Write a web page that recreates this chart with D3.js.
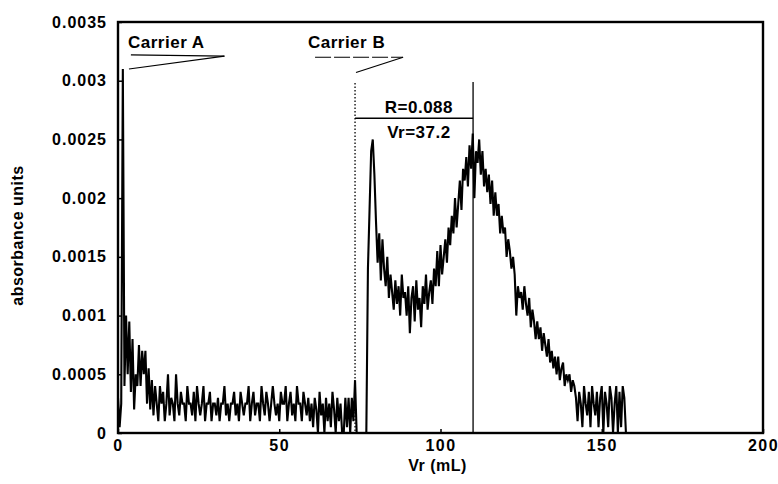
<!DOCTYPE html>
<html>
<head>
<meta charset="utf-8">
<script src="https://cdn.jsdelivr.net/npm/d3@7"></script>
<style>
  body { margin: 0; background: #fff; }
  text { font-family: "Liberation Sans", Arial, sans-serif; font-weight: bold; fill: #000; }
</style>
</head>
<body>
<div id="chart"></div>
<script>
// detector trace, one sample every 0.5 mL starting at 0 mL, in units of 1e-4 absorbance
const sampleStep = 0.5;
const traceE4 = [
  3, 0.5, 2.5, 31, 4, 10, 5, 9.5, 3.5, 8, 2, 5, 4, 7.5, 4, 7, 5, 7, 2.5, 5.5,
  2, 4.5, 1.5, 4, 2.5, 1, 4, 2.5, 3.5, 1, 2.5, 5, 1.5, 3, 2.5, 1, 5, 2.5, 1.5, 3.5,
  2.5, 2.5, 1, 4, 2.5, 2.5, 1.5, 3.5, 1, 4, 2.5, 1.5, 2.5, 4, 1, 2.5, 2.5, 3.5, 1, 2.5,
  2.5, 1.5, 3, 1, 2.5, 2.5, 4, 1.5, 2.5, 1, 2.5, 2.5, 3.5, 1.5, 2.5, 1, 3.5, 2.5, 1.5, 2.5,
  2.5, 4, 1, 2.5, 3.5, 1.5, 2.5, 2.5, 1, 4, 2.5, 1.5, 3.5, 2.5, 1, 2.5, 4, 2.5, 1.5, 2.5,
  1, 3.5, 2.5, 2.5, 4, 1, 2.5, 3.5, 1.5, 2.5, 1, 4, 2.5, 2.5, 1, 3.5, 2.5, 1.5, 3, 1,
  2.5, 0.5, 3, 2, 0, 3.5, 1.5, 2.5, 0, 3, 1, 2.5, 0.5, 3.5, 2, 0, 3, 1, 2.5, 0,
  0, 3, 0.5, 3, 0, 3, 1, 4.5, 0, 0, 0, 0, 0, 0, 0, 14, 19, 24, 25, 22,
  18, 14.5, 17, 13, 16.5, 14, 12.5, 15, 11.5, 13.5, 12, 10.5, 13, 11, 12.5, 10, 13.5, 11.5, 12, 10,
  12.5, 8.5, 11.5, 12.5, 9.5, 13, 10.5, 11.5, 9, 12.5, 11, 13.5, 10.5, 12, 13, 11, 14, 12.5, 15.5, 12.5,
  16, 13.5, 15, 16.5, 14.5, 17.5, 16, 18.5, 17, 20, 17.5, 19.5, 21.5, 19, 22.5, 21.5, 23.5, 21, 24.5, 22.5,
  25.5, 20, 24, 23, 25, 22, 24, 21, 22.5, 20.5, 22, 19.5, 21.5, 18.5, 20.5, 18.5, 19.5, 17, 18.5, 17,
  17.5, 15, 16.5, 15.5, 14, 15, 13.5, 10, 12.5, 11.5, 12, 10.5, 12.5, 11, 10, 11.5, 9, 10.5, 9.5, 8,
  9.5, 8, 9, 7, 8.5, 7.5, 6.5, 8, 6, 7, 5.5, 6.5, 5, 6.5, 4.5, 5.5, 6, 4, 5, 4.5,
  5, 3.5, 4.5, 4, 3, 1, 3.5, 2.5, 0.5, 4, 2.5, 1.5, 3.5, 0.5, 4, 2.5, 1.5, 3.5, 0.5, 3,
  4, 0, 3.5, 2.5, 0.5, 4, 3, 0, 2.5, 4, 0, 3.5, 0.5, 4, 3, 0, 0
];

const xTicks = [0, 50, 100, 150, 200];
const yTicks = [0, 0.0005, 0.001, 0.0015, 0.002, 0.0025, 0.003, 0.0035];
const yTickLabels = ["0", "0.0005", "0.001", "0.0015", "0.002", "0.0025", "0.003", "0.0035"];

// annotations (data coordinates)
const resultText = ["R=0.088", "Vr=37.2"];
const markerStart = 73.5;   // dotted line
const markerPeak = 110.1;   // solid line

const data = traceE4.map((v, i) => ({ vr: i * sampleStep, abs: v * 1e-4 }));

const margin = {top: 22, right: 15, bottom: 51, left: 118};
const W = 778, H = 484;
const width = W - margin.left - margin.right;
const height = H - margin.top - margin.bottom;

const svg = d3.select("#chart").append("svg")
  .attr("width", W)
  .attr("height", H);

const g = svg.append("g")
  .attr("transform", `translate(${margin.left},${margin.top})`);

const x = d3.scaleLinear().domain([0, 200]).range([0, width]);
const y = d3.scaleLinear().domain([0, 0.0035]).range([height, 0]);

// axes, ticks pointing inward
const xAxis = g.append("g")
  .attr("transform", `translate(0,${height})`)
  .call(d3.axisBottom(x).tickValues(xTicks).tickSize(-4).tickPadding(7).tickFormat(d3.format("d")));

const yAxis = g.append("g")
  .call(d3.axisLeft(y).tickValues(yTicks).tickSize(-4).tickPadding(11)
    .tickFormat((d, i) => yTickLabels[i]));

[xAxis, yAxis].forEach(a => {
  a.select(".domain").remove();
  a.selectAll("line").attr("stroke", "#000").attr("stroke-width", 1.5);
  a.selectAll("text")
    .style("font-size", "16px")
    .style("letter-spacing", "1px")
    .attr("fill", "#000");
});
xAxis.selectAll("text").style("letter-spacing", "1.5px");

// trace
const line = d3.line()
  .x(d => x(d.vr))
  .y(d => y(d.abs));

g.append("path")
  .datum(data)
  .attr("fill", "none")
  .attr("stroke", "#000")
  .attr("stroke-width", 2.1)
  .attr("d", line);

// frame
g.append("rect")
  .attr("width", width)
  .attr("height", height)
  .attr("fill", "none")
  .attr("stroke", "#000")
  .attr("stroke-width", 2.4);

// carrier gradient markers
g.append("text")
  .attr("x", x(3.1)).attr("y", y(0.00328))
  .style("font-size", "17px").style("letter-spacing", "0.5px")
  .text("Carrier A");
g.append("line")
  .attr("x1", x(4)).attr("y1", y(0.00322))
  .attr("x2", x(33)).attr("y2", y(0.00321))
  .attr("stroke", "#000").attr("stroke-width", 1.2);
g.append("line")
  .attr("x1", x(3.4)).attr("y1", y(0.0031))
  .attr("x2", x(33)).attr("y2", y(0.00321))
  .attr("stroke", "#000").attr("stroke-width", 1.2);

g.append("text")
  .attr("x", x(58.9)).attr("y", y(0.00328))
  .style("font-size", "17px").style("letter-spacing", "0.5px")
  .text("Carrier B");
g.append("line")
  .attr("x1", x(61.1)).attr("y1", y(0.0032))
  .attr("x2", x(88.4)).attr("y2", y(0.0032))
  .attr("stroke", "#000").attr("stroke-width", 1.2)
  .attr("stroke-dasharray", "16,3");
g.append("line")
  .attr("x1", x(73.8)).attr("y1", y(0.00307))
  .attr("x2", x(88.4)).attr("y2", y(0.0032))
  .attr("stroke", "#000").attr("stroke-width", 1.2);

// retention markers
g.append("line")
  .attr("x1", x(markerStart)).attr("x2", x(markerStart))
  .attr("y1", y(0.00298)).attr("y2", y(0))
  .attr("stroke", "#000").attr("stroke-width", 1.3)
  .attr("stroke-dasharray", "1.5,2");
g.append("line")
  .attr("x1", x(markerPeak)).attr("x2", x(markerPeak))
  .attr("y1", y(0.00299)).attr("y2", y(0))
  .attr("stroke", "#000").attr("stroke-width", 1.3);
g.append("line")
  .attr("x1", x(markerStart)).attr("x2", x(markerPeak))
  .attr("y1", y(0.00268)).attr("y2", y(0.00268))
  .attr("stroke", "#000").attr("stroke-width", 1.5);

g.selectAll(".result")
  .data(resultText)
  .enter().append("text")
  .attr("class", "result")
  .attr("x", x(93.3))
  .attr("y", (d, i) => y(i === 0 ? 0.002725 : 0.00251))
  .attr("text-anchor", "middle")
  .style("font-size", "17px")
  .style("letter-spacing", "0.5px")
  .text(d => d);

// axis titles
svg.append("text")
  .attr("x", margin.left + x(100) - 3)
  .attr("y", H - 13)
  .attr("text-anchor", "middle")
  .style("font-size", "16px")
  .style("letter-spacing", "0.5px")
  .text("Vr (mL)");

svg.append("text")
  .attr("transform", `translate(23,${margin.top + height / 2 + 8}) rotate(-90)`)
  .attr("text-anchor", "middle")
  .style("font-size", "16px")
  .style("letter-spacing", "0.5px")
  .text("absorbance units");
</script>
</body>
</html>
